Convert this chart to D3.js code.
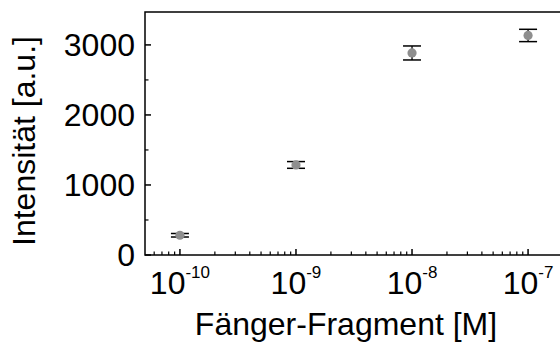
<!DOCTYPE html>
<html>
<head>
<meta charset="utf-8">
<script src="https://cdn.jsdelivr.net/npm/d3@7"></script>
<style>
  body { margin: 0; background: #fff; }
  text { font-family: "Liberation Sans", Arial, sans-serif; fill: #000; }
</style>
</head>
<body>
<div id="chart"></div>
<script>
// data
const conc = [1e-10, 1e-9, 1e-8, 1e-7];
const intens = [282, 1286, 2885, 3135];
const errs = [25, 48, 100, 88];

const xMajor = [1e-10, 1e-9, 1e-8, 1e-7];
const xExp = ["-10", "-9", "-8", "-7"];
const yMajor = [0, 1000, 2000, 3000];
const yMinor = [500, 1500, 2500];

const width = 560, height = 344;
// plot box (right edge runs past the window, as in the original)
const plotL = 145, plotT = 12, plotB = 255, plotR = 563;

const svg = d3.select("#chart").append("svg")
    .attr("width", width)
    .attr("height", height);

const x = d3.scaleLog().domain([5e-11, 2e-7]).range([plotL, plotR]);
const y = d3.scaleLinear().domain([0, 3470]).range([plotB, plotT]);

// frame
svg.append("rect")
    .attr("x", plotL).attr("y", plotT)
    .attr("width", plotR - plotL).attr("height", plotB - plotT)
    .attr("fill", "none")
    .attr("stroke", "#000")
    .attr("stroke-width", 1.5);

// x ticks, pointing inward
const xMinor = [];
for (let e = -11; e <= -7; e++) {
    for (let m = 2; m <= 9; m++) {
        const v = m * Math.pow(10, e);
        if (v >= 5e-11 && v <= 2e-7) xMinor.push(v);
    }
}
svg.selectAll(".xminor")
    .data(xMinor)
    .join("line")
    .attr("x1", d => x(d)).attr("x2", d => x(d))
    .attr("y1", plotB).attr("y2", plotB - 3.5)
    .attr("stroke", "#000").attr("stroke-width", 1.2);

svg.selectAll(".xmajor")
    .data(xMajor)
    .join("line")
    .attr("x1", d => x(d)).attr("x2", d => x(d))
    .attr("y1", plotB).attr("y2", plotB - 6)
    .attr("stroke", "#000").attr("stroke-width", 1.5);

const xl = svg.selectAll(".xlab")
    .data(xMajor)
    .join("text")
    .attr("x", d => x(d))
    .attr("y", 294)
    .attr("text-anchor", "middle")
    .attr("font-size", 32);
xl.append("tspan").text("10");
xl.append("tspan")
    .attr("font-size", 17)
    .attr("dy", -16)
    .text((d, i) => xExp[i]);

// y ticks
svg.selectAll(".ymajor")
    .data(yMajor)
    .join("line")
    .attr("x1", plotL).attr("x2", plotL + 6)
    .attr("y1", d => y(d)).attr("y2", d => y(d))
    .attr("stroke", "#000").attr("stroke-width", 1.5);

svg.selectAll(".yminor")
    .data(yMinor)
    .join("line")
    .attr("x1", plotL).attr("x2", plotL + 3.5)
    .attr("y1", d => y(d)).attr("y2", d => y(d))
    .attr("stroke", "#000").attr("stroke-width", 1.2);

svg.selectAll(".ylab")
    .data(yMajor)
    .join("text")
    .attr("x", 135)
    .attr("y", d => y(d) + 11)
    .attr("text-anchor", "end")
    .attr("font-size", 32)
    .text(d => d);

// points with error bars
const pts = svg.append("g")
    .selectAll("g")
    .data(conc)
    .join("g");

pts.append("line")
    .attr("x1", d => x(d)).attr("x2", d => x(d))
    .attr("y1", (d, i) => y(intens[i] - errs[i]))
    .attr("y2", (d, i) => y(intens[i] + errs[i]))
    .attr("stroke", "#000").attr("stroke-width", 1.3);

[-1, 1].forEach(s => {
    pts.append("line")
        .attr("x1", d => x(d) - 9).attr("x2", d => x(d) + 9)
        .attr("y1", (d, i) => y(intens[i] + s * errs[i]))
        .attr("y2", (d, i) => y(intens[i] + s * errs[i]))
        .attr("stroke", "#000").attr("stroke-width", 1.5);
});

pts.append("circle")
    .attr("cx", d => x(d))
    .attr("cy", (d, i) => y(intens[i]))
    .attr("r", 4.6)
    .attr("fill", "#8e8e8e");

// axis titles
svg.append("text")
    .attr("x", 346)
    .attr("y", 335)
    .attr("text-anchor", "middle")
    .attr("font-size", 32)
    .text("Fänger-Fragment [M]");

svg.append("text")
    .attr("transform", "translate(35,141) rotate(-90)")
    .attr("text-anchor", "middle")
    .attr("font-size", 32)
    .text("Intensität [a.u.]");
</script>
</body>
</html>
